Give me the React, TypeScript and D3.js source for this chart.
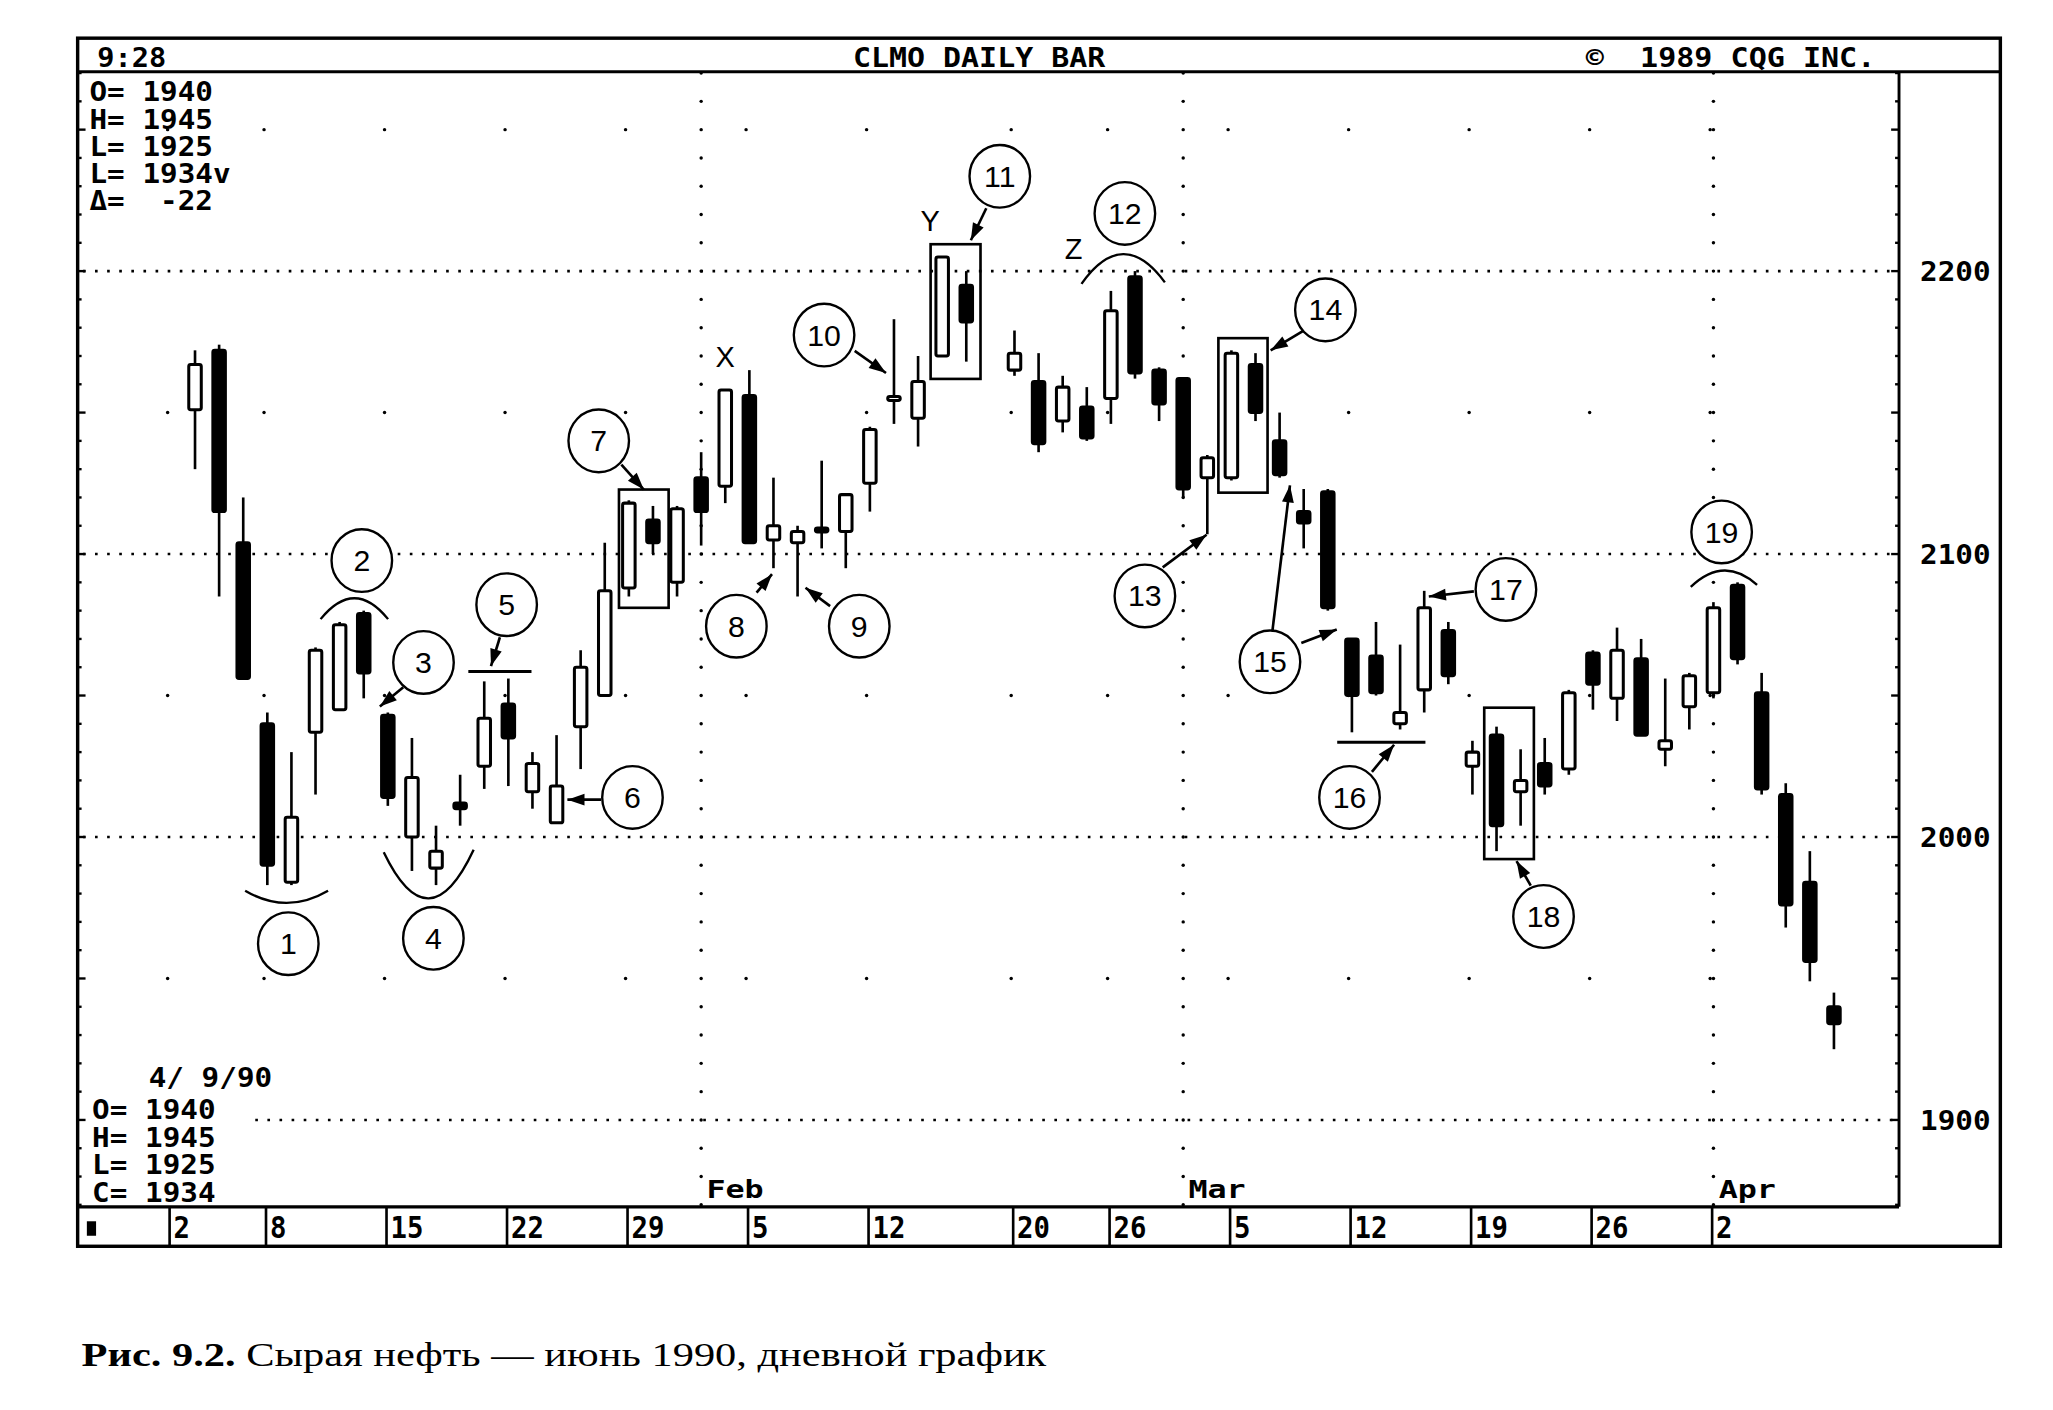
import * as d3 from "d3";
import React from "react";

// CLMO (crude oil, June 1990) daily bars, 3 Jan - 9 Apr 1990
const dates = [
  "1990-01-03", "1990-01-04", "1990-01-05",
  "1990-01-08", "1990-01-09", "1990-01-10", "1990-01-11", "1990-01-12",
  "1990-01-15", "1990-01-16", "1990-01-17", "1990-01-18", "1990-01-19",
  "1990-01-22", "1990-01-23", "1990-01-24", "1990-01-25", "1990-01-26",
  "1990-01-29", "1990-01-30", "1990-01-31", "1990-02-01", "1990-02-02",
  "1990-02-05", "1990-02-06", "1990-02-07", "1990-02-08", "1990-02-09",
  "1990-02-12", "1990-02-13", "1990-02-14", "1990-02-15", "1990-02-16",
  "1990-02-20", "1990-02-21", "1990-02-22", "1990-02-23",
  "1990-02-26", "1990-02-27", "1990-02-28", "1990-03-01", "1990-03-02",
  "1990-03-05", "1990-03-06", "1990-03-07", "1990-03-08", "1990-03-09",
  "1990-03-12", "1990-03-13", "1990-03-14", "1990-03-15", "1990-03-16",
  "1990-03-19", "1990-03-20", "1990-03-21", "1990-03-22", "1990-03-23",
  "1990-03-26", "1990-03-27", "1990-03-28", "1990-03-29", "1990-03-30",
  "1990-04-02", "1990-04-03", "1990-04-04", "1990-04-05", "1990-04-06",
  "1990-04-09",
];
const opens = [
  2151, 2172, 2104,
  2040, 1984, 2037, 2045, 2079,
  2043, 2000, 1989, 2012, 2025,
  2047, 2016, 2005, 2039, 2050,
  2088, 2112, 2090, 2127, 2124,
  2156, 2105, 2104, 2109, 2108,
  2125, 2155, 2148, 2170, 2195,
  2165, 2161, 2147, 2152,
  2155, 2198, 2165, 2162, 2127,
  2127, 2167, 2140, 2115, 2122,
  2070, 2064, 2040, 2052, 2073,
  2025, 2036, 2016, 2026, 2024,
  2065, 2049, 2063, 2031, 2046,
  2051, 2089, 2051, 2015, 1984,
  1940,
];
const highs = [
  2172, 2174, 2120,
  2044, 2030, 2067, 2076, 2080,
  2044, 2035, 2004, 2022, 2055,
  2056, 2030, 2036, 2066, 2104,
  2119, 2117, 2117, 2136, 2158,
  2165, 2127, 2110, 2133, 2121,
  2145, 2183, 2170, 2205, 2200,
  2179, 2171, 2163, 2159,
  2193, 2200, 2166, 2162, 2135,
  2172, 2171, 2150, 2123, 2123,
  2070, 2076, 2068, 2087, 2076,
  2034, 2039, 2031, 2035, 2052,
  2066, 2074, 2070, 2056, 2058,
  2083, 2090, 2058, 2019, 1995,
  1945,
];
const lows = [
  2130, 2085, 2056,
  1983, 1983, 2015, 2045, 2049,
  2011, 1988, 1983, 2004, 2017,
  2018, 2010, 2005, 2024, 2050,
  2085, 2100, 2085, 2103, 2118,
  2104, 2095, 2085, 2102, 2095,
  2115, 2146, 2138, 2170, 2168,
  2163, 2136, 2143, 2140,
  2146, 2162, 2147, 2120, 2107,
  2126, 2147, 2127, 2102, 2080,
  2037, 2050, 2038, 2044, 2054,
  2015, 1995, 2004, 2015, 2022,
  2045, 2041, 2036, 2025, 2038,
  2049, 2061, 2015, 1968, 1949,
  1925,
];
const closes = [
  2167, 2115, 2056,
  1990, 2007, 2066, 2075, 2058,
  2014, 2021, 1995, 2010, 2042,
  2035, 2026, 2018, 2060, 2087,
  2118, 2104, 2116, 2115, 2158,
  2104, 2110, 2108, 2108, 2121,
  2144, 2155, 2161, 2205, 2182,
  2171, 2139, 2159, 2141,
  2186, 2164, 2153, 2123, 2134,
  2171, 2150, 2128, 2111, 2081,
  2050, 2051, 2044, 2081, 2057,
  2030, 2004, 2020, 2018, 2051,
  2054, 2066, 2036, 2034, 2057,
  2081, 2063, 2017, 1976, 1956,
  1934,
];

// bottom date strip and month marks
const weekStarts = [
  "1990-01-02", "1990-01-08", "1990-01-15", "1990-01-22", "1990-01-29",
  "1990-02-05", "1990-02-12", "1990-02-20", "1990-02-26", "1990-03-05",
  "1990-03-12", "1990-03-19", "1990-03-26", "1990-04-02",
];
const weekLabels = ["2", "8", "15", "22", "29", "5", "12", "20", "26", "5", "12", "19", "26", "2"];
const monthStarts = ["1990-02-01", "1990-03-01", "1990-04-02"];
const monthLabels = ["Feb", "Mar", "Apr"];
const priceLabels = [1900, 2000, 2100, 2200];
const halfLevels = [1950, 2050, 2150, 2250];

// annotations (slot, price)
const circleLabels = ["1", "2", "3", "4", "5", "6", "7", "8", "9", "10", "11", "12", "13", "14", "15", "16", "17", "18", "19"];
const circleSlots = [4.87, 7.92, 10.48, 10.89, 13.93, 19.15, 17.75, 23.46, 28.56, 27.1, 34.39, 39.58, 40.41, 47.9, 45.6, 48.9, 55.39, 56.95, 64.34];
const circlePrices = [1962.3, 2097.7, 2061.7, 1964.2, 2082.1, 2014, 2140, 2074.5, 2074.5, 2177.4, 2233.5, 2220.4, 2085.2, 2186.3, 2061.9, 2014, 2087.5, 1971.9, 2107.8];
// [slotFrom, priceFrom, slotTo, priceTo]
const arrows = [
  [9.64, 2052.9, 8.67, 2046.1],
  [13.65, 2070.6, 13.28, 2060.4],
  [17.85, 2013.2, 16.45, 2013.2],
  [18.69, 2131.6, 19.62, 2122.8],
  [24.3, 2086.4, 24.94, 2092.9],
  [27.35, 2081.6, 26.33, 2088.1],
  [28.37, 2171.8, 29.67, 2164],
  [33.83, 2222.2, 33.19, 2210.9],
  [41.15, 2095.3, 42.97, 2106.8],
  [46.98, 2178.9, 45.63, 2172],
  [45.69, 2072, 46.43, 2124.3],
  [46.9, 2068.6, 48.37, 2073.3],
  [49.83, 2023, 50.75, 2032.6],
  [54.06, 2086.8, 52.19, 2085],
  [56.42, 1982.8, 55.83, 1991.5],
];
// [slotLeft, slotRight, priceTop, priceBottom]
const boxes = [
  [18.59, 20.65, 2122.8, 2081],
  [31.52, 33.59, 2209.5, 2161.9],
  [43.46, 45.5, 2176.3, 2121.7],
  [54.49, 56.55, 2045.7, 1992.2],
];
// [slotLeft, slotRight, price]
const levelMarks = [
  [12.34, 14.96, 2058.5],
  [48.39, 52.05, 2033.5],
];
// [slotLeft, slotRight, priceLeft, priceRight, pricePeak]
const arcs = [
  [3.08, 6.52, 1981, 1981, 1976.7],
  [6.21, 9.01, 2077, 2077, 2084.4],
  [8.83, 12.56, 1994.6, 1995.5, 1978.3],
  [37.78, 41.24, 2195.5, 2196, 2206],
  [63.06, 65.81, 2088.4, 2089.1, 2094.2],
];
const letters = ["X", "Y", "Z"];
const letterSlots = [23, 31.5, 37.45];
const letterPrices = [2170, 2218, 2208];

const calStart = new Date(Date.UTC(1990, 0, 2));
const slotOf = (s: string) => {
  const d = new Date(s + "T00:00:00Z");
  return d3.utcDays(calStart, d).filter((t) => t.getUTCDay() !== 0 && t.getUTCDay() !== 6).length;
};

const MONO = "'DejaVu Sans Mono', 'Liberation Mono', monospace";
const SANS = "'Liberation Sans', Arial, sans-serif";

function arrowHead(x1: number, y1: number, x2: number, y2: number) {
  const a = Math.atan2(y2 - y1, x2 - x1);
  const len = 13, half = 4.5;
  const bx = x2 - len * Math.cos(a), by = y2 - len * Math.sin(a);
  const px = -Math.sin(a) * half, py = Math.cos(a) * half;
  return `${x2},${y2} ${bx + px},${by + py} ${bx - px},${by - py}`;
}

// terminal-style text, fixed cell width
const Mono = ({ x, y, text, size = 20, cw = 13.4, anchor = "start" }: any) => (
  <text
    x={x}
    y={y}
    fontFamily={MONO}
    fontSize={size}
    fontWeight="bold"
    textAnchor={anchor}
    textLength={text.length * cw}
    lengthAdjust="spacingAndGlyphs"
    style={{ whiteSpace: "pre" }}
    fill="#000"
  >
    {text}
  </text>
);

export default function App() {
  const left = 59, right = 1443, frameR = 1520, top = 29, head = 54.5, bottom = 917, stripB = 947;
  const x = d3.scaleLinear().domain([-3.87, 71.7]).range([left, right]);
  const y = d3.scaleLinear().domain([1900, 2200]).range([851, 206]);
  const slots = dates.map(slotOf);
  const bodyW = 9.5;
  const last = dates.length - 1;

  const ticks = d3.range(1870, 2271, 10);
  const weekSlots = weekStarts.map(slotOf);
  const monthSlots = monthStarts.map(slotOf);

  const infoTop = [
    `O= ${opens[last]}`,
    `H= ${highs[last]}`,
    `L= ${lows[last]}`,
    `L= ${closes[last]}v`,
    `\u0394=  ${closes[last] - closes[last - 1]}`,
  ];
  const infoBottom = [
    `O= ${opens[last]}`,
    `H= ${highs[last]}`,
    `L= ${lows[last]}`,
    `C= ${closes[last]}`,
  ];

  return (
    <div>
      <style>{"body{margin:0;background:#fff}"}</style>
      <svg width={2053} height={1410} viewBox="0 0 1560 1071.4" style={{ display: "block", background: "#fff" }}>
        {/* frame */}
        <rect x={left} y={top} width={frameR - left} height={stripB - top} fill="none" stroke="#000" strokeWidth={2.6} />
        <line x1={left} x2={frameR} y1={head} y2={head} stroke="#000" strokeWidth={2.4} />
        <line x1={right} x2={right} y1={head} y2={bottom} stroke="#000" strokeWidth={2.2} />
        <line x1={left} x2={right} y1={bottom} y2={bottom} stroke="#000" strokeWidth={2.4} />

        {/* header */}
        <Mono x={74} y={51} text="9:28" cw={13.1} />
        <Mono x={744} y={51} text="CLMO DAILY BAR" cw={13.7} anchor="middle" />
        <Mono x={1205} y={51} text={"\u00a9  1989 CQG INC."} cw={13.75} />

        {/* axis ticks on left frame and right axis */}
        {ticks.map((p) => {
          const len = p % 50 === 0 ? 6 : 3;
          return (
            <g key={"t" + p}>
              <line x1={left} x2={left + len} y1={y(p)} y2={y(p)} stroke="#000" strokeWidth={1.8} />
              <line x1={right - len} x2={right} y1={y(p)} y2={y(p)} stroke="#000" strokeWidth={1.8} />
            </g>
          );
        })}

        {/* dotted price grid */}
        {priceLabels.map((p) => (
          <line
            key={"g" + p}
            x1={p === 1900 ? x(3.5) : left + 4}
            x2={right - 2}
            y1={y(p)}
            y2={y(p)}
            stroke="#000"
            strokeWidth={2}
            strokeDasharray="2 7.2"
          />
        ))}
        {halfLevels.map((p) =>
          weekSlots.map((s, i) => <circle key={`h${p}-${i}`} cx={x(s) - 2.5} cy={y(p)} r={1.3} fill="#000" />)
        )}
        {monthSlots.map((s, i) => (
          <g key={"m" + i}>
            {ticks.map((p) => (
              <circle key={p} cx={x(s)} cy={y(p)} r={1.3} fill="#000" />
            ))}
            <Mono x={x(s) + 4} y={910} text={monthLabels[i]} size={19} cw={14.5} />
          </g>
        ))}

        {/* price labels */}
        {priceLabels.map((p) => (
          <Mono key={"pl" + p} x={1459} y={y(p) + 7.5} text={String(p)} cw={13.4} />
        ))}

        {/* date strip */}
        <rect x={left + 7} y={928} width={7} height={11} fill="#000" />
        {weekSlots.map((s, i) => (
          <g key={"w" + i}>
            <line x1={x(s) - 1} x2={x(s) - 1} y1={bottom} y2={stripB} stroke="#000" strokeWidth={2} />
            <Mono x={x(s) + 2} y={941} text={weekLabels[i]} size={23} cw={12.5} />
          </g>
        ))}

        {/* info blocks */}
        {infoTop.map((t, i) => (
          <Mono key={"it" + i} x={68} y={77 + i * 20.7} text={t} />
        ))}
        <Mono x={113} y={826} text="4/ 9/90" />
        {infoBottom.map((t, i) => (
          <Mono key={"ib" + i} x={70} y={850 + i * 21.2} text={t} />
        ))}

        {/* candles */}
        {dates.map((d, i) => {
          const cx = x(slots[i]);
          const up = closes[i] >= opens[i];
          const yTop = y(Math.max(opens[i], closes[i]));
          const yBot = y(Math.min(opens[i], closes[i]));
          const h = Math.max(yBot - yTop, 3);
          return (
            <g key={d}>
              <line x1={cx} x2={cx} y1={y(highs[i])} y2={y(lows[i])} stroke="#000" strokeWidth={2} />
              <rect
                x={cx - bodyW / 2}
                y={yTop - (h - (yBot - yTop)) / 2}
                width={bodyW}
                height={h}
                rx={1.5}
                fill={up ? "#fff" : "#000"}
                stroke="#000"
                strokeWidth={2.3}
              />
            </g>
          );
        })}

        {/* annotations */}
        <g fill="none" stroke="#000" strokeWidth={1.8}>
          {arcs.map((a, i) => {
            const x1 = x(a[0]), x2 = x(a[1]);
            const y1 = y(a[2]), y2 = y(a[3]);
            const cy = 2 * y(a[4]) - (y1 + y2) / 2;
            const p = d3.path();
            p.moveTo(x1, y1);
            p.quadraticCurveTo((x1 + x2) / 2, cy, x2, y2);
            return <path key={"a" + i} d={p.toString()} />;
          })}
          {boxes.map((b, i) => (
            <rect key={"b" + i} x={x(b[0])} y={y(b[2])} width={x(b[1]) - x(b[0])} height={y(b[3]) - y(b[2])} strokeWidth={2} />
          ))}
          {levelMarks.map((m, i) => (
            <line key={"l" + i} x1={x(m[0])} x2={x(m[1])} y1={y(m[2])} y2={y(m[2])} strokeWidth={2.2} />
          ))}
          {arrows.map((a, i) => (
            <line key={"ar" + i} x1={x(a[0])} y1={y(a[1])} x2={x(a[2])} y2={y(a[3])} strokeWidth={2} />
          ))}
        </g>
        {arrows.map((a, i) => (
          <polygon key={"ah" + i} points={arrowHead(x(a[0]), y(a[1]), x(a[2]), y(a[3]))} fill="#000" />
        ))}
        {circleLabels.map((c, i) => (
          <g key={"c" + i}>
            <ellipse cx={x(circleSlots[i])} cy={y(circlePrices[i])} rx={23} ry={23.8} fill="#fff" stroke="#000" strokeWidth={1.8} />
            <text
              x={x(circleSlots[i])}
              y={y(circlePrices[i]) + 8}
              textAnchor="middle"
              fontFamily={SANS}
              fontSize={23}
              fill="#000"
            >
              {c}
            </text>
          </g>
        ))}
        {letters.map((l, i) => (
          <text
            key={"x" + i}
            x={x(letterSlots[i])}
            y={y(letterPrices[i]) + 8}
            textAnchor="middle"
            fontFamily={SANS}
            fontSize={22}
            fill="#000"
          >
            {l}
          </text>
        ))}

        {/* caption */}
        <text
          x={62}
          y={1038}
          fontFamily="'Liberation Serif', 'DejaVu Serif', serif"
          fontSize={25}
          textLength={733}
          lengthAdjust="spacingAndGlyphs"
          fill="#000"
        >
          <tspan fontWeight="bold">Рис. 9.2.</tspan> Сырая нефть — июнь 1990, дневной график
        </text>
      </svg>
    </div>
  );
}
